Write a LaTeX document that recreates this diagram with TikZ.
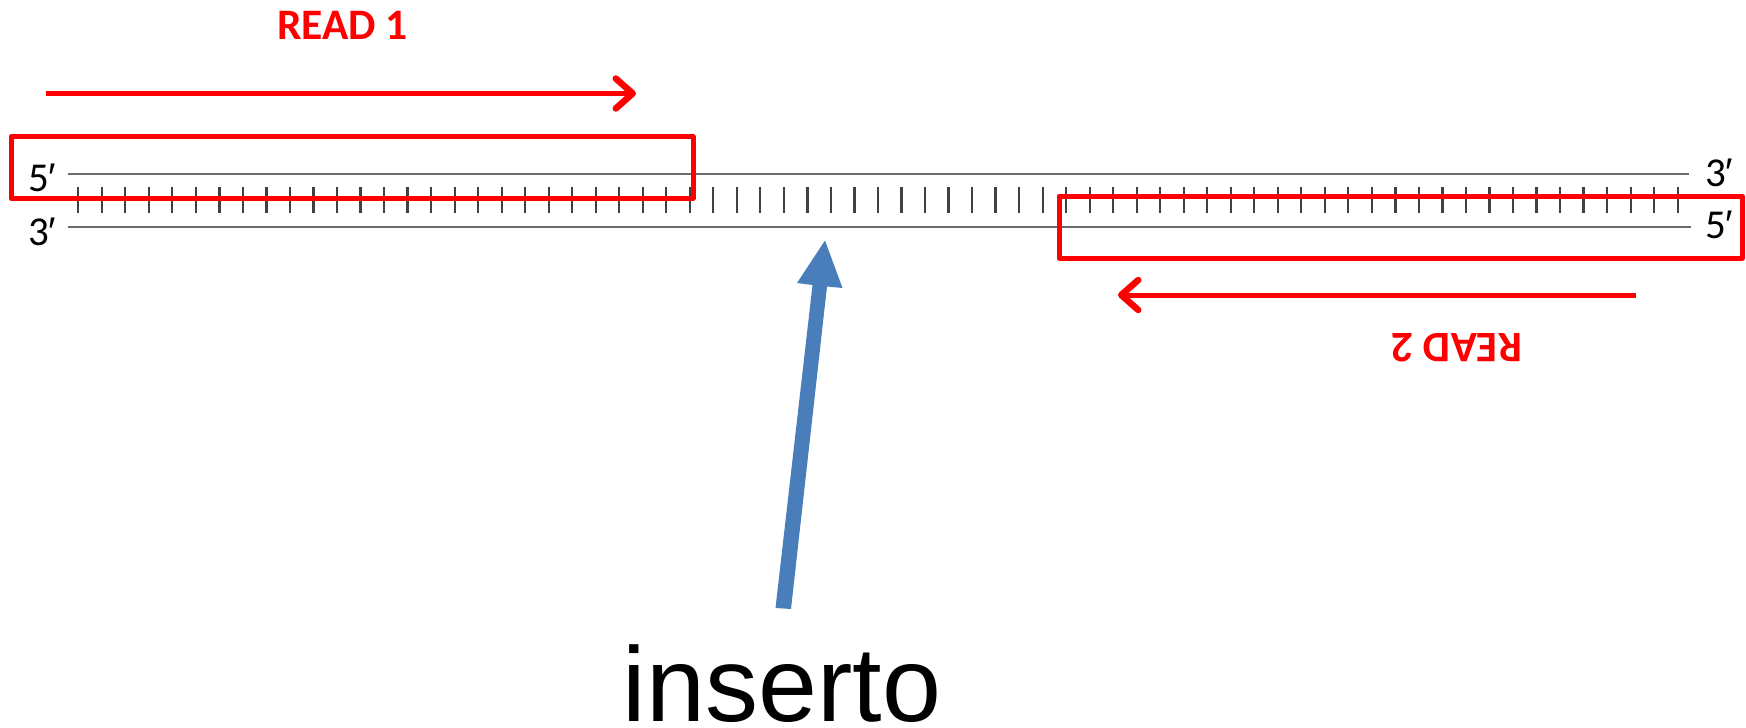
\documentclass[tikz,border=0pt]{standalone}
\usepackage{fontspec}
\setmainfont{Carlito}
\newfontfamily\arialfont{Liberation Sans}
\usetikzlibrary{arrows.meta}
\definecolor{rd}{RGB}{255,0,0}
\definecolor{blu}{RGB}{74,126,187}
\newcommand{\primemark}{{\arialfont\fontsize{40}{40}\selectfont ′}}
\tikzset{
  x=1pt,y=-1pt,
  strand/.style={draw=black!58,line width=2.6pt},
  basepair/.style={fill=black!75},
  readbox/.style={draw=rd,line width=5pt,line join=round},
  readarrow/.style={draw=rd,line width=5pt,-{Straight Barb[length=17pt,width=30pt,line width=6.5pt,round]}},
  readlabel/.style={text=rd,font=\fontsize{43.5}{43.5}\selectfont\bfseries,inner sep=0pt},
  endlabel/.style={text=black,font=\fontsize{41}{41}\selectfont,inner sep=0pt,anchor=base west},
}
\begin{document}
\begin{tikzpicture}
\useasboundingbox (0,0) rectangle (1746,728);
\fill[white] (0,0) rectangle (1746,728);
% strands
\coordinate (t1) at (68,174); \coordinate (t2) at (1689,174);
\coordinate (b1) at (68,227); \coordinate (b2) at (1691,227);
\draw[strand] (t1) -- (t2);
\draw[strand] (b1) -- (b2);
% base pairs
\foreach \i in {0,...,68}{
  \fill[basepair] ({77.2+23.52*\i},187) rectangle ({79.4+23.52*\i},213);
}
% read boxes
\draw[readbox] (11,136.7) rectangle (693,198.3);
\draw[readbox] (1059,196) rectangle (1742,258);
% read arrows
\coordinate (r1a) at (46,93.5); \coordinate (r1b) at (636,93.5);
\coordinate (r2a) at (1636,295); \coordinate (r2b) at (1118,295);
\draw[readarrow] (r1a) -- (r1b);
\draw[readarrow] (r2a) -- (r2b);
% labels
\node[readlabel] (read1) at (342.5,25) {READ 1};
\node[readlabel,rotate=180] (read2) at (1457,347.5) {READ 2};
\node[endlabel] (lf) at (28,191) {5\primemark};
\node[endlabel] (lt) at (28,245) {3\primemark};
\node[endlabel] (rt) at (1705,186) {3\primemark};
\node[endlabel] (rf) at (1705,238) {5\primemark};
% blue arrow
\fill[blu] (775.5,608) -- (812.5,285) -- (797,283) -- (825,240.5) -- (842.5,288) -- (827,286.5) -- (791,609) -- cycle;
\node[inner sep=0pt,anchor=base,font=\arialfont\fontsize{106}{106}\selectfont] (ins) at (782,721) {inserto};
\end{tikzpicture}
\end{document}
